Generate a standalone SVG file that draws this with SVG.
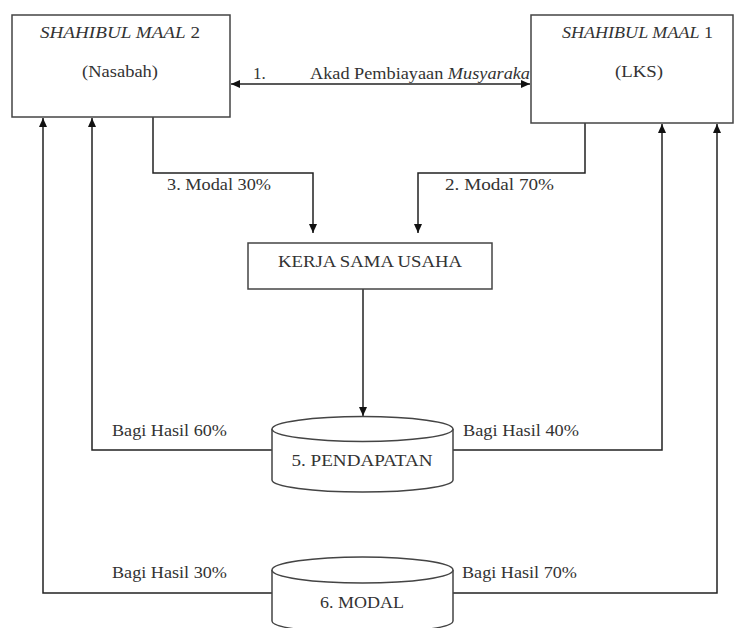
<svg xmlns="http://www.w3.org/2000/svg" width="735" height="628" viewBox="0 0 735 628">
<style>
.box{fill:#fff;stroke:#444;stroke-width:1.5}
.ln{fill:none;stroke:#222;stroke-width:1.5}
.t{font-family:'Liberation Serif','Times New Roman','DejaVu Serif',serif;font-size:17px;fill:#333}
.c{text-anchor:middle}
</style>
<defs>
<marker id="ah" markerWidth="10" markerHeight="10" refX="9" refY="5" orient="auto-start-reverse" markerUnits="userSpaceOnUse">
<path d="M0,1 L9,5 L0,9 Z" fill="#111"/>
</marker>
</defs>
<rect width="735" height="628" fill="#fff"/>
<g id="connectors">
<line class="ln" x1="231" y1="84" x2="530" y2="84" marker-start="url(#ah)" marker-end="url(#ah)"/>
<polyline class="ln" points="153,117 153,173 313,173 313,233" marker-end="url(#ah)"/>
<polyline class="ln" points="585,123 585,173 418,173 418,233" marker-end="url(#ah)"/>
<line class="ln" x1="363" y1="289" x2="363" y2="416" marker-end="url(#ah)"/>
<polyline class="ln" points="272,450 92,450 92,118" marker-end="url(#ah)"/>
<polyline class="ln" points="453,450 662,450 662,124" marker-end="url(#ah)"/>
<polyline class="ln" points="272,593 43,593 43,118" marker-end="url(#ah)"/>
<polyline class="ln" points="453,593 717,593 717,124" marker-end="url(#ah)"/>
<text class="t" x="253" y="79">1.</text>
<text class="t" x="310" y="79" textLength="220" lengthAdjust="spacingAndGlyphs">Akad Pembiayaan <tspan font-style="italic">Musyaraka</tspan></text>
<text class="t" x="167" y="190" textLength="104" lengthAdjust="spacingAndGlyphs">3. Modal 30%</text>
<text class="t" x="445" y="190" textLength="109" lengthAdjust="spacingAndGlyphs">2.  Modal 70%</text>
<text class="t" x="112" y="436" textLength="115" lengthAdjust="spacingAndGlyphs">Bagi Hasil 60%</text>
<text class="t" x="463" y="436" textLength="116" lengthAdjust="spacingAndGlyphs">Bagi Hasil 40%</text>
<text class="t" x="112" y="578" textLength="115" lengthAdjust="spacingAndGlyphs">Bagi Hasil 30%</text>
<text class="t" x="462" y="578" textLength="115" lengthAdjust="spacingAndGlyphs">Bagi Hasil 70%</text>
</g>
<g id="sm2">
<rect class="box" x="12" y="15" width="218" height="102"/>
<text class="t" x="40" y="38" textLength="160" lengthAdjust="spacingAndGlyphs"><tspan font-style="italic">SHAHIBUL MAAL</tspan>  2</text>
<text class="t c" x="120" y="77" textLength="76" lengthAdjust="spacingAndGlyphs">(Nasabah)</text>
</g>
<g id="sm1">
<rect class="box" x="531" y="15" width="202" height="108"/>
<text class="t" x="562" y="38" textLength="151" lengthAdjust="spacingAndGlyphs"><tspan font-style="italic">SHAHIBUL MAAL</tspan> 1</text>
<text class="t c" x="639" y="77" textLength="48" lengthAdjust="spacingAndGlyphs">(LKS)</text>
</g>
<g id="kerja">
<rect class="box" x="248" y="243" width="244" height="46"/>
<text class="t c" x="370" y="267" textLength="184" lengthAdjust="spacingAndGlyphs">KERJA SAMA USAHA</text>
</g>
<g id="pendapatan">
<path class="box" d="M272,429 L272,480 A90.5,12 0 0 0 453,480 L453,429"/>
<ellipse class="box" cx="362.5" cy="429" rx="90.5" ry="12.5"/>
<text class="t c" x="362" y="466" textLength="141" lengthAdjust="spacingAndGlyphs">5. PENDAPATAN</text>
</g>
<g id="modal">
<path class="box" d="M272,570 L272,621 A90.5,12 0 0 0 453,621 L453,570"/>
<ellipse class="box" cx="362.5" cy="570" rx="90.5" ry="13"/>
<text class="t c" x="362" y="608" textLength="84" lengthAdjust="spacingAndGlyphs">6. MODAL</text>
</g>
</svg>
